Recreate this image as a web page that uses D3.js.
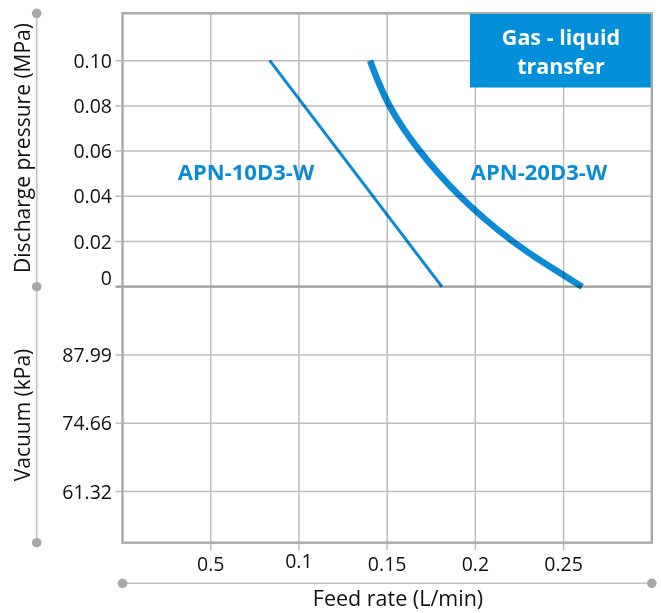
<!DOCTYPE html>
<html>
<head>
<meta charset="utf-8">
<script src="https://cdn.jsdelivr.net/npm/d3@7"></script>
<style>
  html, body { margin: 0; padding: 0; background: #ffffff; }
  svg { display: block; font-family: "Open Sans", "Noto Sans", sans-serif; }
</style>
</head>
<body>
<svg id="chart" width="661" height="613"></svg>
<script>
// ---- data ----
const xTickValues = [0.05, 0.10, 0.15, 0.20, 0.25];
const xTickLabels = ["0.5", "0.1", "0.15", "0.2", "0.25"];
const pressureTicks = [0, 0.02, 0.04, 0.06, 0.08, 0.10];
const pressureLabels = ["0", "0.02", "0.04", "0.06", "0.08", "0.10"];
const vacuumTicks = [87.99, 74.66, 61.32];
const vacuumLabels = ["87.99", "74.66", "61.32"];

const seriesNames = ["APN-10D3-W", "APN-20D3-W"];
const apn10Pressure = [0.10, 0.00];
const apn10Flow = [0.0835, 0.181];
const apn20Pressure = [0.10, 0.09, 0.08, 0.07, 0.06, 0.05, 0.04, 0.03, 0.02, 0.01, 0.00];
const apn20Flow = [0.1403, 0.1452, 0.1510, 0.1590, 0.1683, 0.1790, 0.1910, 0.2050, 0.2208, 0.2396, 0.2605];
const boxLines = ["Gas - liquid", "transfer"];
const xTitle = "Feed rate (L/min)";
const yTitleTop = "Discharge pressure (MPa)";
const yTitleBottom = "Vacuum (kPa)";

// ---- layout ----
const L = 122.5, R = 651.8, T = 13.3, B = 542.7, Y0 = 286.7;
const blue = "#0a8bd6";
const boxBlue = "#008fd8";
const frameGray = "#a9a9a9";
const gridGray = "#bcbcbc";

const svg = d3.select("#chart");
const x = d3.scaleLinear().domain([0, 0.3]).range([L, R]);
const yP = d3.scaleLinear().domain([0, 0.10]).range([Y0, 60.7]);
const yV = d3.scaleLinear().domain([101.32, 61.32]).range([Y0, 491.6]);

// gridlines
const grid = svg.append("g");
grid.selectAll("line.vx").data(xTickValues).join("line")
  .attr("x1", d => x(d)).attr("x2", d => x(d))
  .attr("y1", T).attr("y2", B + 7.5)
  .attr("stroke", gridGray).attr("stroke-width", 1.5);
grid.selectAll("line.hp").data(pressureTicks.filter(d => d > 0)).join("line")
  .attr("class", "hp")
  .attr("x1", L - 7).attr("x2", R)
  .attr("y1", d => yP(d)).attr("y2", d => yP(d))
  .attr("stroke", gridGray).attr("stroke-width", 1.5);
grid.selectAll("line.hv").data(vacuumTicks).join("line")
  .attr("class", "hv")
  .attr("x1", L - 7).attr("x2", R)
  .attr("y1", d => yV(d)).attr("y2", d => yV(d))
  .attr("stroke", gridGray).attr("stroke-width", 1.5);
// zero line
grid.append("line")
  .attr("x1", L - 7).attr("x2", R)
  .attr("y1", yP(0)).attr("y2", yP(0))
  .attr("stroke", "#9a9a9a").attr("stroke-width", 2.2);

// frame
svg.append("rect")
  .attr("x", L).attr("y", T).attr("width", R - L).attr("height", B - T)
  .attr("fill", "none").attr("stroke", frameGray).attr("stroke-width", 2.4);

// curves
const line10 = d3.line().x(d => x(d[0])).y(d => yP(d[1]));
const line20 = d3.line().x(d => x(d[0])).y(d => yP(d[1])).curve(d3.curveBasis);
svg.append("path")
  .datum(apn10Flow.map((f, i) => [f, apn10Pressure[i]]))
  .attr("d", line10)
  .attr("fill", "none").attr("stroke", blue).attr("stroke-width", 3)
  .style("mix-blend-mode", "multiply");
svg.append("path")
  .datum(apn20Flow.map((f, i) => [f, apn20Pressure[i]]))
  .attr("d", line20)
  .attr("fill", "none").attr("stroke", blue).attr("stroke-width", 6.5)
  .style("mix-blend-mode", "multiply");

// series labels
const labelPos = [[246, 179.5], [539, 179.5]];
svg.selectAll("text.series").data(seriesNames).join("text")
  .attr("class", "series")
  .attr("x", (d, i) => labelPos[i][0]).attr("y", (d, i) => labelPos[i][1])
  .attr("text-anchor", "middle")
  .attr("font-size", 22).attr("font-weight", 700)
  .attr("fill", blue).text(d => d);

// box
svg.append("rect")
  .attr("x", 470).attr("y", 14).attr("width", R - 470 - 1).attr("height", 73.5)
  .attr("fill", boxBlue);
svg.selectAll("text.box").data(boxLines).join("text")
  .attr("class", "box")
  .attr("x", 561).attr("y", (d, i) => 45 + i * 28.5)
  .attr("text-anchor", "middle")
  .attr("font-size", 21.5).attr("font-weight", 700)
  .attr("fill", "#ffffff").text(d => d);

// tick labels
const tickColor = "#111111";
const tickSize = 19.5;
svg.selectAll("text.pt").data(pressureTicks).join("text")
  .attr("class", "pt")
  .attr("x", 112).attr("y", d => yP(d) + (d === 0 ? -9 : 0))
  .attr("dy", "0.36em")
  .attr("text-anchor", "end")
  .attr("font-size", tickSize).attr("fill", tickColor)
  .text((d, i) => pressureLabels[i]);
svg.selectAll("text.vt").data(vacuumTicks).join("text")
  .attr("class", "vt")
  .attr("x", 112).attr("y", d => yV(d))
  .attr("dy", "0.36em")
  .attr("text-anchor", "end")
  .attr("font-size", tickSize).attr("fill", tickColor)
  .text((d, i) => vacuumLabels[i]);
svg.selectAll("text.xt").data(xTickValues).join("text")
  .attr("class", "xt")
  .attr("x", d => x(d)).attr("y", (d, i) => i === 1 ? 568 : 571)
  .attr("text-anchor", "middle")
  .attr("font-size", tickSize).attr("fill", tickColor)
  .text((d, i) => xTickLabels[i]);

// brackets
const bracketColor = "#c2c2c2";
const dotColor = "#a8a8a8";
const bx = 36.7, by = 583.3;
svg.append("line").attr("x1", bx).attr("x2", bx).attr("y1", T).attr("y2", B)
  .attr("stroke", bracketColor).attr("stroke-width", 1.6);
svg.append("line").attr("x1", L).attr("x2", R).attr("y1", by).attr("y2", by)
  .attr("stroke", bracketColor).attr("stroke-width", 1.6);
const dots = [[bx, T], [bx, Y0], [bx, B], [L, by], [R, by]];
svg.selectAll("circle.dot").data(dots).join("circle")
  .attr("cx", d => d[0]).attr("cy", d => d[1]).attr("r", 4.8)
  .attr("fill", dotColor);

// axis titles
const titleSize = 21;
svg.append("text")
  .attr("x", 398).attr("y", 606)
  .attr("text-anchor", "middle").attr("font-size", 21.5).attr("fill", tickColor)
  .text(xTitle);
svg.append("text")
  .attr("transform", `translate(30,148) rotate(-90)`)
  .attr("text-anchor", "middle").attr("font-size", titleSize).attr("fill", tickColor)
  .text(yTitleTop);
svg.append("text")
  .attr("transform", `translate(30,415) rotate(-90)`)
  .attr("text-anchor", "middle").attr("font-size", titleSize).attr("fill", tickColor)
  .text(yTitleBottom);
</script>
</body>
</html>
